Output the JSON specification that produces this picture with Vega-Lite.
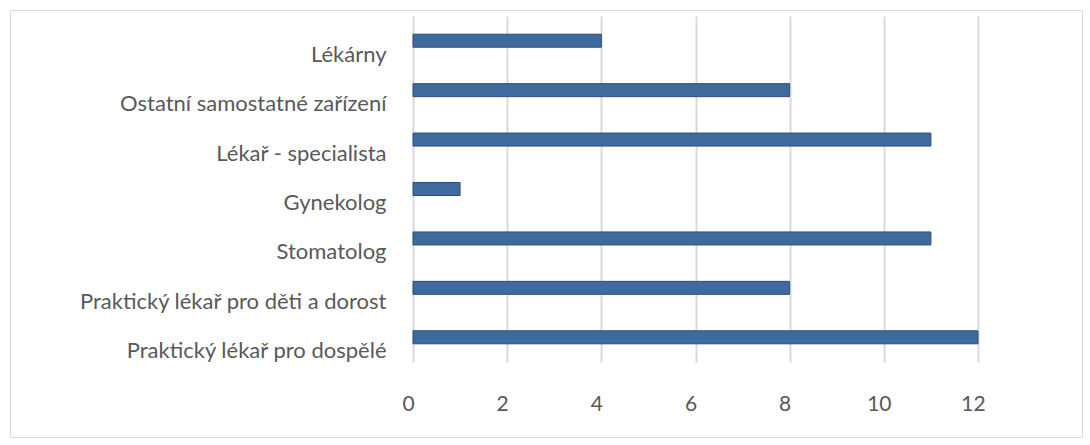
{
  "$schema": "https://vega.github.io/schema/vega-lite/v6.json",
  "width": 1072,
  "height": 427,
  "autosize": "none",
  "padding": {"left": 10, "top": 10, "right": 8, "bottom": 8},
  "background": "white",
  "data": {
    "values": [
      {"kategorie": "Lékárny", "pocet": 4},
      {"kategorie": "Ostatní samostatné zařízení", "pocet": 8},
      {"kategorie": "Lékař - specialista", "pocet": 11},
      {"kategorie": "Gynekolog", "pocet": 1},
      {"kategorie": "Stomatolog", "pocet": 11},
      {"kategorie": "Praktický lékař pro děti a dorost", "pocet": 8},
      {"kategorie": "Praktický lékař pro dospělé", "pocet": 12}
    ]
  },
  "mark": {"type": "bar", "height": 13, "color": "#3F6A9D", "stroke": "#2D4E7C", "strokeWidth": 1},
  "encoding": {
    "y": {
      "field": "kategorie",
      "type": "nominal",
      "sort": null,
      "scale": {"range": [6, 352], "paddingInner": 0, "paddingOuter": 0},
      "axis": {
        "title": null,
        "domain": false,
        "ticks": false,
        "grid": false,
        "offset": -403,
        "labelPadding": 27,
        "labelOffset": 14,
        "labelLimit": 500,
        "labelFont": "Lato",
        "labelFontSize": 22,
        "labelColor": "#595959"
      }
    },
    "x": {
      "field": "pocet",
      "type": "quantitative",
      "scale": {"domain": [0, 12], "range": [403, 968], "nice": false},
      "axis": {
        "orient": "top",
        "title": null,
        "domain": false,
        "ticks": false,
        "grid": true,
        "gridColor": "#D9D9D9",
        "gridWidth": 2,
        "values": [0, 2, 4, 6, 8, 10, 12],
        "offset": -406,
        "labelPadding": 2,
        "labelOffset": -5,
        "labelFont": "Lato",
        "labelFontSize": 21,
        "labelColor": "#595959",
        "labelFlush": false
      }
    }
  },
  "config": {
    "view": {"stroke": "#D9D9D9", "strokeWidth": 1}
  }
}
